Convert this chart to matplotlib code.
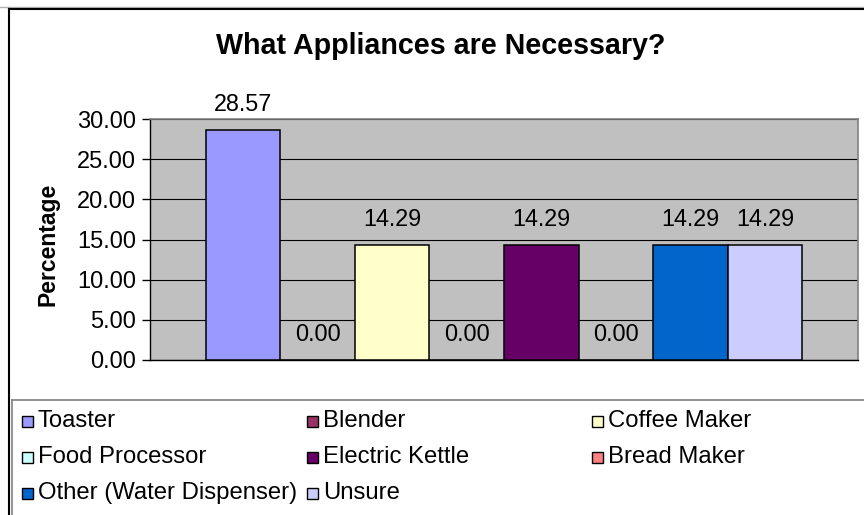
import matplotlib
matplotlib.use("Agg")
import matplotlib.pyplot as plt
from matplotlib.lines import Line2D
from matplotlib.patches import Rectangle

# Survey results
categories = ["Toaster", "Blender", "Coffee Maker", "Food Processor",
              "Electric Kettle", "Bread Maker", "Other (Water Dispenser)", "Unsure"]
percentages = [28.57, 0.00, 14.29, 0.00, 14.29, 0.00, 14.29, 14.29]
bar_colors = ["#9999FF", "#993366", "#FFFFCC", "#CCFFFF",
              "#660066", "#FF8080", "#0066CC", "#CCCCFF"]
yticks = [0, 5, 10, 15, 20, 25, 30]

W, H = 864, 515
plt.rcParams['font.family'] = ['Liberation Sans', 'DejaVu Sans']

fig = plt.figure(figsize=(W / 100, H / 100), dpi=100)


def fx(x):
    return x / W


def fy(y):
    return 1 - y / H


# plot area (pixel box converted to figure fractions)
left, right, top, bottom = 150, 858, 119, 360
ax = fig.add_axes([fx(left), fy(bottom), fx(right - left), (bottom - top) / H])
ax.set_facecolor("#C0C0C0")

x = range(len(categories))
ax.bar(x, percentages, width=1.0, color=bar_colors, edgecolor="black",
       linewidth=1.1, zorder=3)

for i, v in enumerate(percentages):
    ax.annotate(f"{v:.2f}", (i, v), xytext=(0, 18.5), textcoords="offset points",
                ha="center", va="center", fontsize=16.8, zorder=4)

ax.set_xlim(-1.25, len(categories) + 0.25)
ax.set_ylim(0, 30)
ax.set_yticks(yticks)
ax.set_yticklabels([f"{t:.2f}" for t in yticks], fontsize=17)
ax.set_xticks([])
ax.tick_params(axis="y", direction="out", length=6, width=1, pad=4)
ax.yaxis.grid(True, color="black", linewidth=0.8, zorder=1)
ax.set_axisbelow(True)
for side in ("top", "right"):
    ax.spines[side].set_color("#808080")
    ax.spines[side].set_linewidth(1.2)
for side in ("left", "bottom"):
    ax.spines[side].set_color("black")
    ax.spines[side].set_linewidth(1.0)

# title and axis label
fig.text(fx(441), fy(46), "What Appliances are Necessary?", ha="center", va="center",
         fontsize=20.6, fontweight="bold")
fig.text(fx(48), fy(244), "Percentage", ha="center", va="center", rotation=90,
         fontsize=16.5, fontweight="bold")

# chart frame
fig.add_artist(Line2D([0, 1], [fy(7), fy(7)], transform=fig.transFigure,
                      color="#B0B0B0", linewidth=1))
fig.add_artist(Line2D([fx(9), 1], [fy(9), fy(9)], transform=fig.transFigure,
                      color="black", linewidth=1.5))
fig.add_artist(Line2D([fx(9), fx(9)], [fy(9), 0], transform=fig.transFigure,
                      color="black", linewidth=1.5))

# legend box
fig.add_artist(Line2D([fx(12), 1], [fy(400), fy(400)], transform=fig.transFigure,
                      color="#808080", linewidth=1.2))
fig.add_artist(Line2D([fx(12), fx(12)], [fy(400), 0], transform=fig.transFigure,
                      color="#808080", linewidth=1.2))

col_x = [22, 307, 592]
row_y = [421, 457, 493]
box = 11
for k, (name, c) in enumerate(zip(categories, bar_colors)):
    mx, my = col_x[k % 3], row_y[k // 3]
    fig.add_artist(Rectangle((fx(mx), fy(my + box / 2)), box / W, box / H,
                             transform=fig.transFigure, facecolor=c,
                             edgecolor="black", linewidth=1))
    fig.text(fx(mx + 16), fy(my), name, ha="left", va="center", fontsize=17.2)

fig.savefig("out.png", dpi=100)
